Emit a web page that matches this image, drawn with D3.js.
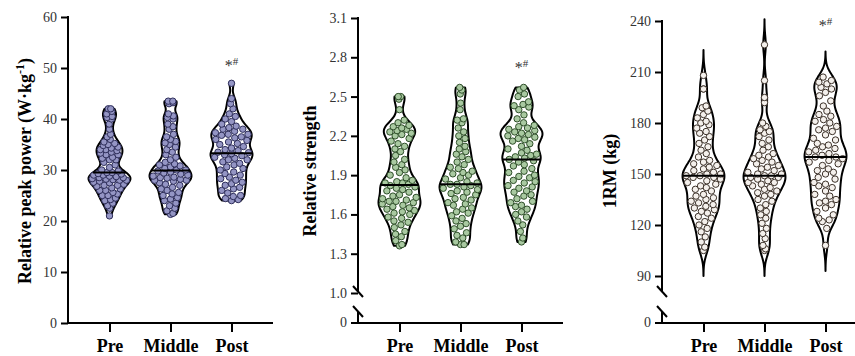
<!DOCTYPE html>
<html>
<head>
<meta charset="utf-8">
<script src="https://cdn.jsdelivr.net/npm/d3@7"></script>
<style>
  body { margin: 0; background: #fff; }
  svg { display: block; font-family: "Liberation Serif", "Times New Roman", serif; }
</style>
</head>
<body>
<div id="app"></div>
<script>
const groups = ["Pre", "Middle", "Post"];

// relative peak power (W·kg-1)
const powerPre = [21.0, 22.5, 23.0, 23.5, 24.0, 24.2, 24.5, 25.0, 25.0, 25.3, 25.6, 26.0, 26.0, 26.3, 26.5, 26.8, 27.0, 27.0, 27.2, 27.5,
  27.6, 27.8, 28.0, 28.0, 28.1, 28.2, 28.3, 28.5, 28.5, 28.7, 28.8, 29.0, 29.0, 29.2, 29.3, 29.5, 29.5, 29.8, 30.0, 30.5,
  31.0, 31.5, 32.0, 32.0, 32.3, 32.5, 33.0, 33.0, 33.3, 33.5, 33.8, 34.0, 34.0, 34.3, 34.5, 34.8, 35.0, 35.2, 35.5, 36.0,
  36.5, 37.0, 38.0, 39.0, 40.0, 40.3, 40.5, 41.0, 41.5, 42.0, 42.0];
const powerMiddle = [21.3, 21.5, 22.0, 22.5, 23.0, 23.5, 24.0, 24.3, 24.6, 25.0, 25.3, 25.6, 26.0, 26.3, 26.6, 27.0, 27.2, 27.5, 27.8, 28.0,
  28.0, 28.2, 28.4, 28.5, 28.6, 28.8, 29.0, 29.2, 29.4, 29.6, 29.8, 30.0, 30.0, 30.3, 30.6, 30.8, 31.0, 31.2, 31.5, 32.0,
  32.5, 33.0, 33.5, 34.0, 34.5, 35.0, 35.3, 35.6, 36.0, 36.5, 37.0, 38.0, 38.5, 39.0, 40.0, 40.3, 40.6, 41.0, 43.0, 43.2,
  43.5, 43.5];
const powerPost = [24.0, 24.2, 24.4, 24.8, 25.0, 25.5, 26.0, 26.3, 26.6, 27.0, 27.3, 27.6, 28.0, 28.3, 28.6, 29.0, 29.3, 29.6, 30.0, 30.3,
  30.6, 31.0, 31.3, 31.6, 32.0, 32.0, 32.3, 32.5, 32.8, 33.0, 33.2, 33.4, 33.5, 33.8, 34.0, 34.3, 34.6, 35.0, 35.2, 35.5,
  35.8, 36.0, 36.3, 36.5, 36.8, 37.0, 37.0, 37.3, 37.6, 38.0, 38.0, 38.3, 38.6, 39.0, 39.5, 40.0, 40.5, 41.0, 42.0, 43.0,
  44.0, 47.0];

// relative strength
const strengthPre = [1.36, 1.37, 1.40, 1.43, 1.45, 1.47, 1.50, 1.52, 1.54, 1.55, 1.57, 1.58, 1.60, 1.61, 1.62, 1.63, 1.64, 1.65, 1.66, 1.67,
  1.68, 1.69, 1.70, 1.70, 1.71, 1.72, 1.73, 1.74, 1.75, 1.77, 1.78, 1.79, 1.80, 1.81, 1.82, 1.83, 1.84, 1.84, 1.85, 1.86,
  1.88, 1.90, 1.92, 1.94, 1.96, 1.98, 2.00, 2.02, 2.05, 2.08, 2.10, 2.12, 2.14, 2.16, 2.18, 2.20, 2.21, 2.22, 2.23, 2.24,
  2.25, 2.26, 2.27, 2.28, 2.30, 2.32, 2.40, 2.48, 2.50, 2.50];
const strengthMiddle = [1.37, 1.37, 1.39, 1.42, 1.44, 1.46, 1.49, 1.51, 1.53, 1.55, 1.57, 1.59, 1.61, 1.62, 1.64, 1.65, 1.67, 1.68, 1.69, 1.71,
  1.72, 1.73, 1.75, 1.76, 1.77, 1.78, 1.79, 1.80, 1.81, 1.82, 1.83, 1.83, 1.84, 1.85, 1.87, 1.88, 1.90, 1.91, 1.92, 1.93,
  1.95, 1.96, 1.98, 2.00, 2.02, 2.04, 2.06, 2.08, 2.10, 2.12, 2.15, 2.18, 2.20, 2.23, 2.26, 2.30, 2.32, 2.33, 2.40, 2.45,
  2.52, 2.55, 2.57];
const strengthPost = [1.39, 1.42, 1.47, 1.52, 1.55, 1.58, 1.60, 1.62, 1.64, 1.66, 1.67, 1.69, 1.70, 1.72, 1.74, 1.75, 1.77, 1.78, 1.80, 1.81,
  1.82, 1.84, 1.85, 1.86, 1.88, 1.89, 1.90, 1.92, 1.93, 1.95, 1.97, 1.98, 2.00, 2.01, 2.02, 2.03, 2.04, 2.05, 2.06, 2.07,
  2.09, 2.10, 2.12, 2.14, 2.16, 2.17, 2.18, 2.19, 2.20, 2.21, 2.22, 2.23, 2.24, 2.25, 2.26, 2.27, 2.28, 2.30, 2.33, 2.36,
  2.40, 2.42, 2.43, 2.44, 2.46, 2.50, 2.52, 2.55, 2.57];

// 1RM (kg)
const rmPre = [105, 107, 110, 113, 116, 118, 120, 122, 124, 125, 127, 128, 129, 130, 131, 132, 133, 134, 135, 136,
  137, 138, 140, 141, 142, 143, 144, 145, 146, 147, 148, 148, 149, 149, 150, 150, 151, 152, 153, 154,
  155, 156, 157, 158, 160, 162, 164, 166, 168, 170, 172, 174, 175, 177, 179, 180, 181, 183, 185, 187,
  189, 190, 200, 200, 208];
const rmMiddle = [105, 106, 108, 112, 115, 118, 121, 124, 126, 128, 130, 132, 134, 135, 137, 138, 139, 140, 141, 142,
  143, 144, 145, 145, 146, 147, 148, 148, 149, 149, 150, 150, 151, 152, 153, 154, 155, 156, 157, 158,
  159, 160, 161, 162, 164, 166, 168, 170, 172, 174, 175, 176, 178, 180, 192, 195, 205, 226];
const rmPost = [108, 118, 122, 123, 124, 126, 128, 130, 132, 133, 134, 135, 137, 138, 140, 142, 143, 144, 145, 147,
  148, 150, 151, 152, 153, 155, 156, 157, 158, 159, 160, 160, 161, 162, 163, 164, 165, 166, 167, 168,
  170, 171, 173, 175, 176, 177, 178, 180, 181, 182, 184, 185, 187, 190, 193, 196, 198, 200, 201, 203,
  204, 205, 207];

const powerTicks = [0, 10, 20, 30, 40, 50, 60];
const strengthTicks = [1.0, 1.3, 1.6, 1.9, 2.2, 2.5, 2.8, 3.1];
const rmTicks = [90, 120, 150, 180, 210, 240];

const width = 855;
const height = 356;
const baseY = 323;

const svg = d3
  .select("#app")
  .append("svg")
  .attr("width", width)
  .attr("height", height)
  .attr("viewBox", [0, 0, width, height]);

const panels = [
  {
    axisX: 68, labelX: 25, domain: [0, 60], range: [baseY, 17], ticks: powerTicks,
    fmt: d3.format("d"), data: [powerPre, powerMiddle, powerPost], bw: 1.0, tail: 0,
    fill: "#9495c4", stroke: "#2e2e5a", starY: 65, broken: false,
  },
  {
    axisX: 358, labelX: 310, domain: [1.0, 3.1], range: [293, 18], ticks: strengthTicks,
    fmt: d3.format(".1f"), data: [strengthPre, strengthMiddle, strengthPost], bw: 0.05, tail: 0,
    fill: "#a9c9a1", stroke: "#2f4f2a", starY: 67, broken: true,
  },
  {
    axisX: 662, labelX: 610, domain: [90, 240], range: [276, 21], ticks: rmTicks,
    fmt: d3.format("d"), data: [rmPre, rmMiddle, rmPost], bw: 5, tail: 3,
    fill: "#f4f0ec", stroke: "#3b3028", starY: 25, broken: true,
  },
];

function kde(values, bw) {
  return (v) => d3.mean(values, (d) => Math.exp(-0.5 * ((v - d) / bw) ** 2));
}

// spread points across the violin width without random jitter
function place(values, y, halfWidth, r) {
  const sorted = values.slice().sort((a, b) => a - b);
  const pref = [0, 0.6, -0.6, 0.3, -0.3, 0.9, -0.9];
  const placed = [];
  sorted.forEach((v, i) => {
    const py = y(v);
    const lim = Math.max(0, halfWidth(v) - r - 0.5);
    let best = 0;
    let bestCost = Infinity;
    for (let k = 0; k < 11; k++) {
      const px = lim * ((2 * k) / 10 - 1);
      let cost = 0;
      for (const p of placed) {
        const d = Math.hypot(p.x - px, p.y - py);
        if (d < 2 * r) cost += (2 * r - d) ** 2;
      }
      cost += 0.05 * Math.abs(px - lim * pref[i % pref.length]);
      if (cost < bestCost) {
        bestCost = cost;
        best = px;
      }
    }
    placed.push({ v, x: best, y: py });
  });
  return placed;
}

panels.forEach((p) => {
  const g = svg.append("g");
  const y = d3.scaleLinear().domain(p.domain).range(p.range);
  const x = d3
    .scalePoint()
    .domain(groups)
    .range([p.axisX, p.axisX + 205])
    .padding(0.68);

  // y axis
  const yAxis = d3
    .axisLeft(y)
    .tickValues(p.ticks)
    .tickSize(7)
    .tickPadding(4)
    .tickFormat(p.fmt);
  const ya = g
    .append("g")
    .attr("transform", `translate(${p.axisX},0)`)
    .call(yAxis)
    .attr("font-family", null);
  ya.select(".domain").remove();
  ya.selectAll(".tick line").attr("stroke", "#000").attr("stroke-width", 2);
  ya.selectAll(".tick text")
    .attr("fill", "#333")
    .style("font-size", "14px");

  const axisLines = g.append("g").attr("stroke", "#000").attr("stroke-width", 2).attr("fill", "none");
  if (p.broken) {
    axisLines.append("line").attr("x1", p.axisX).attr("x2", p.axisX).attr("y1", p.range[1] - 1).attr("y2", 292);
    axisLines.append("line").attr("x1", p.axisX).attr("x2", p.axisX).attr("y1", 312).attr("y2", baseY + 1);
    axisLines.append("line").attr("x1", p.axisX - 5).attr("x2", p.axisX + 5).attr("y1", 286).attr("y2", 297);
    axisLines.append("line").attr("x1", p.axisX - 5).attr("x2", p.axisX + 5).attr("y1", 306).attr("y2", 317);
    // the zero tick below the break
    axisLines.append("line").attr("x1", p.axisX - 7).attr("x2", p.axisX).attr("y1", baseY).attr("y2", baseY);
    g.append("text")
      .attr("x", p.axisX - 11)
      .attr("y", baseY)
      .attr("dy", "0.32em")
      .attr("text-anchor", "end")
      .attr("fill", "#333")
      .style("font-size", "14px")
      .text("0");
  } else {
    axisLines.append("line").attr("x1", p.axisX).attr("x2", p.axisX).attr("y1", p.range[1] - 1).attr("y2", baseY + 1);
  }

  // x axis
  const xa = g
    .append("g")
    .attr("transform", `translate(0,${baseY})`)
    .call(d3.axisBottom(x).tickSize(9).tickPadding(7).tickSizeOuter(0))
    .attr("font-family", null);
  xa.select(".domain").remove();
  xa.selectAll(".tick line").attr("stroke", "#000").attr("stroke-width", 2);
  xa.selectAll(".tick text")
    .attr("fill", "#000")
    .style("font-size", "18px")
    .style("font-weight", "bold");
  axisLines.append("line").attr("x1", p.axisX - 1).attr("x2", p.axisX + 205).attr("y1", baseY).attr("y2", baseY);

  // violins
  p.data.forEach((values, i) => {
    const cx = x(groups[i]);
    const dens = kde(values, p.bw);
    const lo = d3.min(values) - p.tail * p.bw;
    const hi = d3.max(values) + p.tail * p.bw;
    const grid = d3.range(121).map((k) => lo + ((hi - lo) * k) / 120);
    const maxD = d3.max(grid, dens);
    const halfWidth = (v) => (21 * dens(v)) / maxD;

    const area = d3
      .area()
      .y((v) => y(v))
      .x0((v) => cx - halfWidth(v))
      .x1((v) => cx + halfWidth(v))
      .curve(d3.curveBasis);

    g.append("path")
      .attr("d", area(grid))
      .attr("fill", "none")
      .attr("stroke", "#000")
      .attr("stroke-width", 2)
      .attr("stroke-linejoin", "round");

    const pts = place(values, y, halfWidth, 3.2);
    g.append("g")
      .selectAll("circle")
      .data(pts)
      .join("circle")
      .attr("cx", (d) => cx + d.x)
      .attr("cy", (d) => d.y)
      .attr("r", 3.2)
      .attr("fill", p.fill)
      .attr("stroke", p.stroke)
      .attr("stroke-width", 1);

    const med = d3.median(values);
    g.append("line")
      .attr("x1", cx - halfWidth(med))
      .attr("x2", cx + halfWidth(med))
      .attr("y1", y(med))
      .attr("y2", y(med))
      .attr("stroke", "#000")
      .attr("stroke-width", 2);
  });

  // significance marks above Post
  const star = g
    .append("text")
    .attr("x", x("Post"))
    .attr("y", p.starY + 6)
    .attr("text-anchor", "middle")
    .attr("fill", "#333")
    .style("font-size", "16px");
  star.append("tspan").text("*");
  star.append("tspan").attr("dy", -6).style("font-size", "11px").text("#");
});

// y axis titles
const titles = svg
  .append("g")
  .style("font-size", "18px")
  .style("font-weight", "bold")
  .attr("text-anchor", "middle");

const t1 = titles
  .append("text")
  .attr("transform", `translate(${panels[0].labelX + 6},171) rotate(-90)`);
t1.append("tspan").text("Relative peak power (W·kg");
t1.append("tspan").attr("dy", -7).style("font-size", "12px").text("-1");
t1.append("tspan").attr("dy", 7).text(")");

titles
  .append("text")
  .attr("transform", `translate(${panels[1].labelX + 6},171) rotate(-90)`)
  .text("Relative strength");

titles
  .append("text")
  .attr("transform", `translate(${panels[2].labelX + 6},171) rotate(-90)`)
  .text("1RM (kg)");
</script>
</body>
</html>
